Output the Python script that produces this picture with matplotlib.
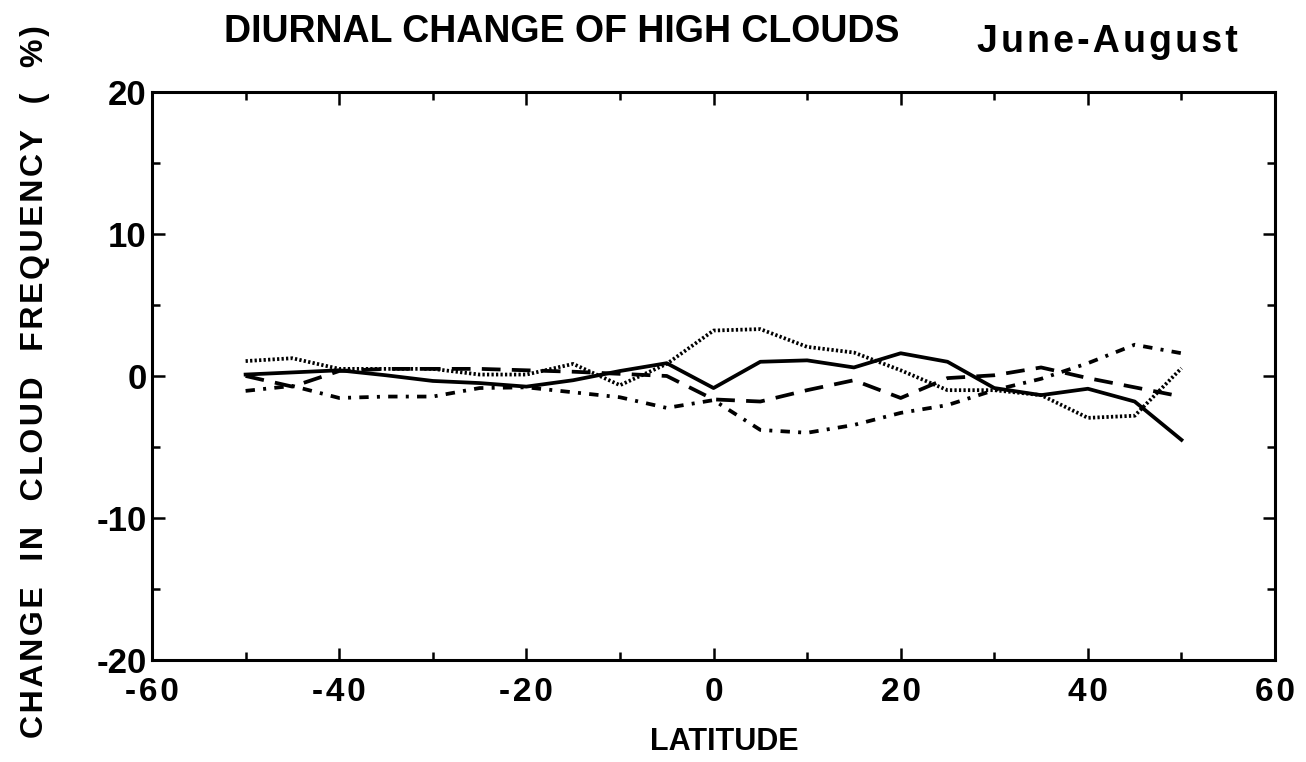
import matplotlib
matplotlib.use("Agg")
import matplotlib.pyplot as plt
import numpy as np

# ---- data ----
latitude = [-50, -45, -40, -35, -30, -25, -20, -15, -10, -5, 0,
            5, 10, 15, 20, 25, 30, 35, 40, 45, 50]
series_solid = [0.1, 0.25, 0.4, 0.05, -0.35, -0.5, -0.75, -0.3, 0.35, 0.9, -0.85,
                1.0, 1.1, 0.6, 1.6, 1.0, -0.85, -1.35, -0.9, -1.8, -4.5]
series_dotted = [1.05, 1.25, 0.5, 0.5, 0.5, 0.1, 0.1, 0.85, -0.65, 0.85, 3.2,
                 3.3, 2.05, 1.65, 0.4, -1.0, -1.0, -1.35, -2.95, -2.8, 0.55]
series_dashed = [0.0, -0.75, 0.35, 0.5, 0.5, 0.5, 0.4, 0.3, 0.15, 0.0, -1.65,
                 -1.8, -1.0, -0.3, -1.55, -0.15, 0.05, 0.6, -0.15, -0.8, -1.45]
series_dashdot = [-1.05, -0.7, -1.55, -1.45, -1.45, -0.85, -0.8, -1.15, -1.5, -2.25, -1.7,
                  -3.8, -4.0, -3.45, -2.6, -2.05, -1.0, -0.2, 0.9, 2.2, 1.6]

xtick_vals = [-60, -40, -20, 0, 20, 40, 60]
xtick_labels = ["-60", "-40", "-20", "0", "20", "40", "60"]
ytick_vals = [-20, -10, 0, 10, 20]
ytick_labels = ["-20", "-10", "0", "10", "20"]

title_text = "DIURNAL CHANGE OF HIGH CLOUDS"
season_text = "June-August"
xlabel_text = "LATITUDE"
ylabel_text = "CHANGE  IN  CLOUD  FREQUENCY  (  %)"

plt.rcParams['font.family'] = ['Liberation Sans', 'DejaVu Sans']

HS = "\u200a"  # hair space for letter spacing


def spaced(s):
    return HS.join(list(s))


fig = plt.figure(figsize=(13.06, 7.62), dpi=100)
ax = fig.add_axes([0.1164, 0.1339, 0.8599, 0.7454])

lw = 2.7
ax.plot(latitude, series_solid, color='black', lw=lw, linestyle='-')
ax.plot(latitude, series_dotted, color='black', lw=lw, linestyle=(0, (0.6, 0.6)))
ax.plot(latitude, series_dashed, color='black', lw=lw, linestyle=(0, (5, 3)))
ax.plot(latitude, series_dashdot, color='black', lw=lw, linestyle=(0, (2.5, 2.2, 0.8, 2.2)))

ax.set_xlim(-60, 60)
ax.set_ylim(-20, 20)

ax.set_xticks(xtick_vals)
ax.set_xticklabels([spaced(t) for t in xtick_labels])
ax.set_xticks(np.arange(-50, 51, 20), minor=True)
ax.set_yticks(ytick_vals)
ax.set_yticklabels(ytick_labels)
ax.set_yticks(np.arange(-15, 16, 10), minor=True)

ax.tick_params(which='both', direction='in', top=True, right=True, width=1.8)
ax.tick_params(which='major', length=9)
ax.tick_params(which='minor', length=6)
ax.tick_params(axis='x', which='major', pad=12, labelsize=24)
ax.tick_params(axis='y', which='major', pad=4, labelsize=25)
for lab in ax.get_xticklabels() + ax.get_yticklabels():
    lab.set_fontweight('bold')

for sp in ax.spines.values():
    sp.set_linewidth(2.2)

ax.set_xlabel(xlabel_text, fontsize=22, fontweight='bold')
ax.xaxis.set_label_coords(0.51, -0.118)
ax.set_ylabel(spaced(ylabel_text), fontsize=23, fontweight='bold')
ax.yaxis.set_label_coords(-0.091, 0.49)

fig.text(0.43, 0.958, title_text, fontsize=27, fontweight='bold',
         ha='center', va='center')
fig.text(0.848, 0.945, spaced(season_text), fontsize=27, fontweight='bold',
         ha='center', va='center')

fig.savefig("out.png", dpi=100)
